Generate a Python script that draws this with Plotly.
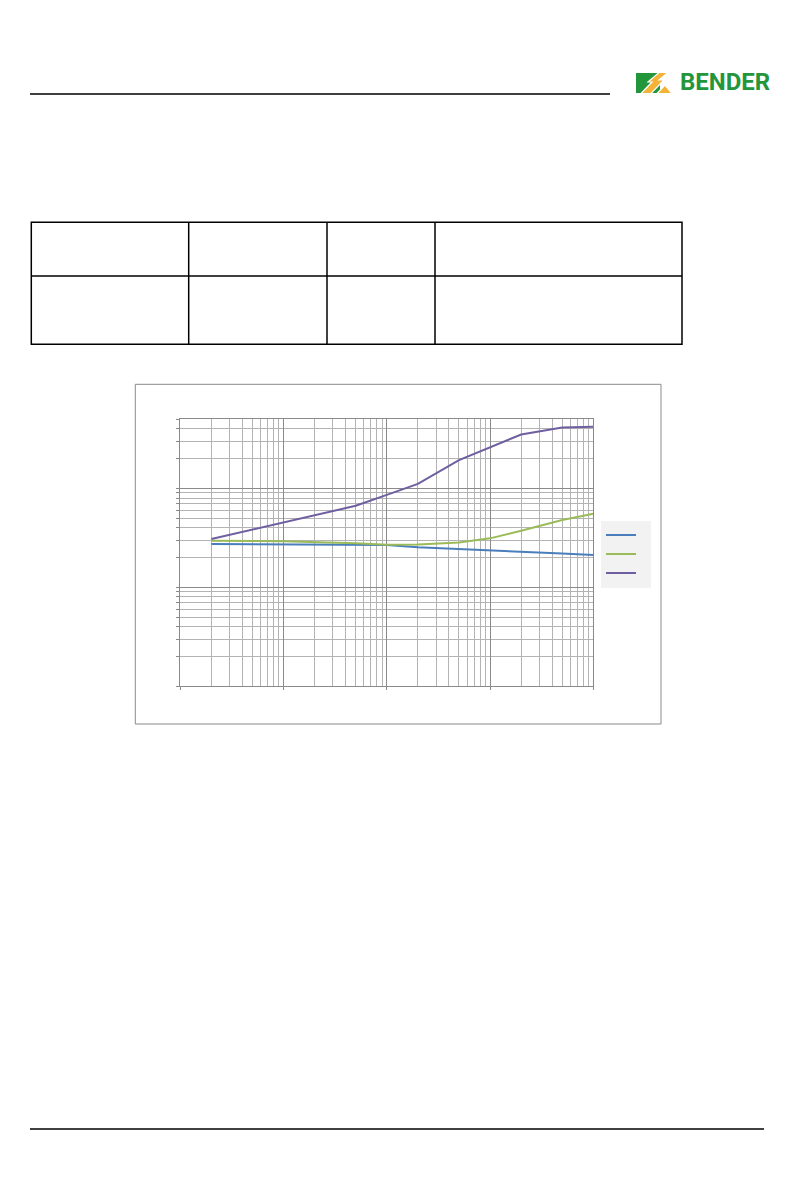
import plotly.graph_objects as go

# frequency points (Hz) and the three response curves
freq = [20, 100, 500, 1000, 2000, 5000, 10000, 20000, 50000, 100000]
blue_vals = [2.74, 2.72, 2.70, 2.68, 2.54, 2.44, 2.38, 2.33, 2.20, 2.12]
green_vals = [2.96, 2.92, 2.80, 2.70, 2.72, 2.85, 3.13, 3.73, 4.79, 5.55]
purple_vals = [3.08, 4.50, 6.68, 8.60, 11.1, 19.3, 25.9, 35.1, 41.3, 42.0]

series_names = ["  ", "  ", "  "]
series_colors = ["#4a7ebb", "#9bbb59", "#6f5fa0"]

W, H = 794, 1190


def px(x):
    return x / W


def py(y):
    return 1 - y / H


def hline(x0, x1, y, color="black", width=1):
    return dict(type="line", xref="paper", yref="paper", x0=px(x0), x1=px(x1),
                y0=py(y), y1=py(y), line=dict(color=color, width=width))


def vline(x, y0, y1, color="black", width=1):
    return dict(type="line", xref="paper", yref="paper", x0=px(x), x1=px(x),
                y0=py(y0), y1=py(y1), line=dict(color=color, width=width))


def poly(points, color, edge=None):
    d = "M " + " L ".join(f"{px(a):.5f},{py(b):.5f}" for a, b in points) + " Z"
    line = dict(width=0) if edge is None else dict(color=edge, width=1.2)
    return dict(type="path", xref="paper", yref="paper", path=d,
                fillcolor=color, line=line)


fig = go.Figure()
for vals, name, color in zip([blue_vals, green_vals, purple_vals], series_names, series_colors):
    fig.add_trace(go.Scatter(x=freq, y=vals, mode="lines", name=name,
                             line=dict(color=color, width=2)))

shapes = []
# page header / footer rules
shapes.append(hline(30, 610, 94, width=1.3))
shapes.append(hline(30, 764, 1129, width=1.5))

# empty table
t_left, t_right, t_top, t_mid, t_bot = 31.3, 682, 222.3, 276, 344.3
shapes.append(dict(type="rect", xref="paper", yref="paper", x0=px(t_left), x1=px(t_right),
                   y0=py(t_bot), y1=py(t_top), line=dict(color="black", width=1.5)))
shapes.append(hline(t_left, t_right, t_mid, width=1.5))
for cx in [188.7, 327, 435]:
    shapes.append(vline(cx, t_top, t_bot, width=1.5))

# chart frame
shapes.append(dict(type="rect", xref="paper", yref="paper", x0=px(135.3), x1=px(661),
                   y0=py(724), y1=py(384.3), line=dict(color="#8a8a8a", width=1)))

# logo mark
shapes.append(poly([(636, 73), (660, 73), (660, 93), (636, 93)], "#23963c"))
shapes.append(poly([(641, 93.5), (652, 82), (648, 82), (659, 72.5), (668, 72.5), (659, 80),
                    (664, 80), (651, 93.5)], "#f4b236", edge="white"))
shapes.append(poly([(657, 93.5), (665, 85), (672, 93.5)], "#f4b236", edge="white"))

fig.update_layout(
    width=W, height=H,
    margin=dict(l=0, r=0, t=0, b=0),
    paper_bgcolor="white", plot_bgcolor="white",
    shapes=shapes,
    showlegend=True,
    legend=dict(x=px(601), y=py(554), xanchor="left", yanchor="middle",
                bgcolor="#f2f2f2", borderwidth=0, font=dict(size=8, color="#333"),
                itemwidth=30),
    annotations=[dict(text="<b>BENDER</b>", xref="paper", yref="paper", x=px(678), y=py(82.5),
                      xanchor="left", yanchor="middle", showarrow=False,
                      font=dict(family="Roboto", size=24, color="#23963c"))],
)

fig.update_xaxes(
    type="log", range=[1, 5], domain=[px(180.3), px(593.3)],
    showticklabels=False, dtick=1,
    ticks="outside", ticklen=3, tickcolor="#8a8a8a",
    showgrid=True, gridcolor="#8a8a8a", gridwidth=1,
    minor=dict(dtick="D1", showgrid=True, gridcolor="#b3b3b3", gridwidth=1, ticks=""),
    showline=True, linecolor="#8a8a8a", linewidth=1, mirror=True,
    zeroline=False,
)
fig.update_yaxes(
    type="log", range=[-1, 1.69897], domain=[py(686.3), py(419.3)],
    showticklabels=False, dtick=1,
    ticks="outside", ticklen=3, tickcolor="#8a8a8a",
    showgrid=True, gridcolor="#8a8a8a", gridwidth=1,
    minor=dict(dtick="D1", showgrid=True, gridcolor="#b3b3b3", gridwidth=1,
               ticks="outside", ticklen=3, tickcolor="#8a8a8a"),
    showline=True, linecolor="#8a8a8a", linewidth=1, mirror=True,
    zeroline=False,
)

fig.write_html("out.html", config={"displayModeBar": False},
               post_script="document.body.style.margin='0';document.body.style.overflow='hidden';")
